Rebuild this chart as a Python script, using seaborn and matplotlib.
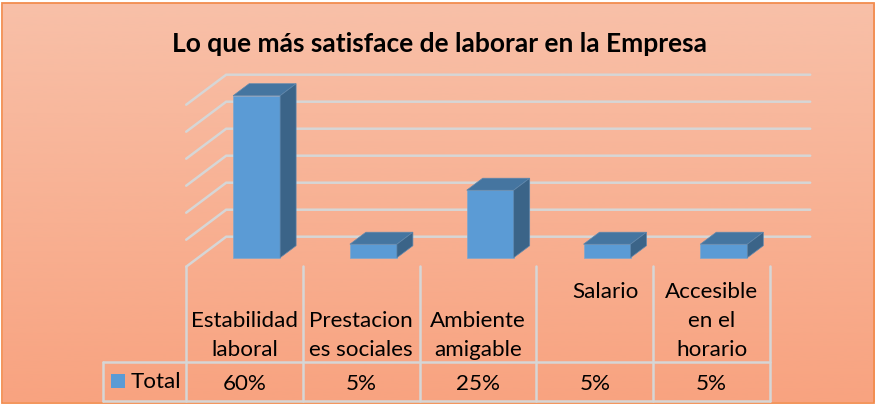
import numpy as np
import pandas as pd
import seaborn as sns
import matplotlib.pyplot as plt
from matplotlib.patches import Polygon, Rectangle

title = 'Lo que más satisface de laborar en la Empresa'
categories = ['Estabilidad\nlaboral', 'Prestacion\nes sociales', 'Ambiente\namigable', 'Salario', 'Accesible\nen el\nhorario']
values = [60, 5, 25, 5, 5]
series_name = 'Total'
grid_ticks = [0, 10, 20, 30, 40, 50, 60]
# row of the first text line, Salario sits on top like in the original
first_row = [1, 1, 1, 0, 0]
# Salario is also a bit off centre in its cell
label_shift_px = [0, 0, 0, 10.5, 0]

blue = '#5B9BD5'
blue_top = '#4575A0'
blue_side = '#3B6488'
grid_col = '#D6D6D6'

# pixel scale of the picture, one category = 116.8 px, one percent = 2.7 px
cat_px = 116.8
pct_px = 2.7
W, H = 875, 406
x0_px = 256.6
y0_px = 258.7


def to_x(px):
    return (px - x0_px) / cat_px


def to_y(py):
    return (y0_px - py) / pct_px


sns.set_theme(style='white')
plt.rcParams['font.family'] = ['Lato', 'DejaVu Sans']

fig = plt.figure(figsize=(W / 100, H / 100), dpi=100)
ax = fig.add_axes([0, 0, 1, 1])
ax.axis('off')

# background gradient
grad = np.linspace(0, 1, 256).reshape(-1, 1)
top_c = np.array([0xF8, 0xC0, 0xA8]) / 255
bot_c = np.array([0xF8, 0xA3, 0x80]) / 255
img = top_c[None, None, :] * (1 - grad[:, :, None]) + bot_c[None, None, :] * grad[:, :, None]
ax.imshow(img, extent=(to_x(3), to_x(874), to_y(403), to_y(4)), aspect='auto', zorder=0)
ax.add_patch(Rectangle((to_x(2.5), to_y(403.5)), (874 - 2.5) / cat_px, (403.5 - 4) / pct_px,
                       fill=False, ec='#F28C4E', lw=1.3, zorder=1))

# depth of the floor and of the bars, in data units
floor_dx = 40 / cat_px
floor_dy = 30 / pct_px
front_dx = 12 / cat_px
front_dy = 9 / pct_px
bar_dx = 16 / cat_px
bar_dy = 12 / pct_px
bar_width = 47 / cat_px

# grid on side wall and back wall
for t in grid_ticks:
    xs = [-0.5 - front_dx, -0.5 - front_dx + floor_dx, 4.5 - front_dx + floor_dx]
    ys = [t - front_dy, t - front_dy + floor_dy, t - front_dy + floor_dy]
    ax.plot(xs, ys, color=grid_col, lw=1.8, zorder=2, solid_joinstyle='miter')

df = pd.DataFrame({'cat': categories, 'val': values})
sns.barplot(data=df, x='cat', y='val', color=blue, saturation=1, width=bar_width, ax=ax, zorder=3)
for bar in ax.containers[0]:
    bar.set_edgecolor('#7FA6CC')
    bar.set_linewidth(0.5)

for i, v in enumerate(values):
    l = i - bar_width / 2
    r = i + bar_width / 2
    ax.add_patch(Polygon([(l, v), (r, v), (r + bar_dx, v + bar_dy), (l + bar_dx, v + bar_dy)],
                         fc=blue_top, ec='#5F88AE', lw=0.5, zorder=3))
    ax.add_patch(Polygon([(r, 0), (r + bar_dx, bar_dy), (r + bar_dx, v + bar_dy), (r, v)],
                         fc=blue_side, ec='#5F88AE', lw=0.5, zorder=3))

# data table below the chart
edges = [to_x(186 + k * cat_px) for k in range(len(categories) + 1)]
table_top = to_y(363)
table_bot = to_y(401.5)
for e in edges:
    ax.plot([e, e], [to_y(267), table_bot], color=grid_col, lw=1.8, zorder=2)
left = to_x(103)
for yy in [table_top, table_bot]:
    ax.plot([left, edges[-1]], [yy, yy], color=grid_col, lw=1.8, zorder=2)
ax.plot([left, left], [table_top, table_bot], color=grid_col, lw=1.8, zorder=2)

row_y = [292, 321, 350]
for i, lab in enumerate(categories):
    mid = (edges[i] + edges[i + 1]) / 2
    for k, line in enumerate(lab.split('\n')):
        ax.text(mid + label_shift_px[i] / cat_px, to_y(row_y[first_row[i] + k]), line, ha='center', va='center',
                fontsize=16.1, color='black', zorder=4)
    ax.text(mid, to_y(384), f'{values[i]}%', ha='center', va='center', fontsize=16.1, color='black', zorder=4)

ax.add_patch(Rectangle((to_x(111), to_y(389)), 14 / cat_px, 14 / pct_px, fc=blue, ec='none', zorder=4))
ax.text(to_x(131), to_y(382), series_name, ha='left', va='center', fontsize=16.1, color='black', zorder=4)

ax.text(to_x(439.5), to_y(43.5), title, ha='center', va='center', fontsize=19,
        fontweight='bold', color='black', zorder=4)

ax.set_xlim(to_x(0), to_x(W))
ax.set_ylim(to_y(H), to_y(0))
ax.set_xlabel('')
ax.set_ylabel('')

plt.savefig('out.png', dpi=100, facecolor='white')
plt.close()
